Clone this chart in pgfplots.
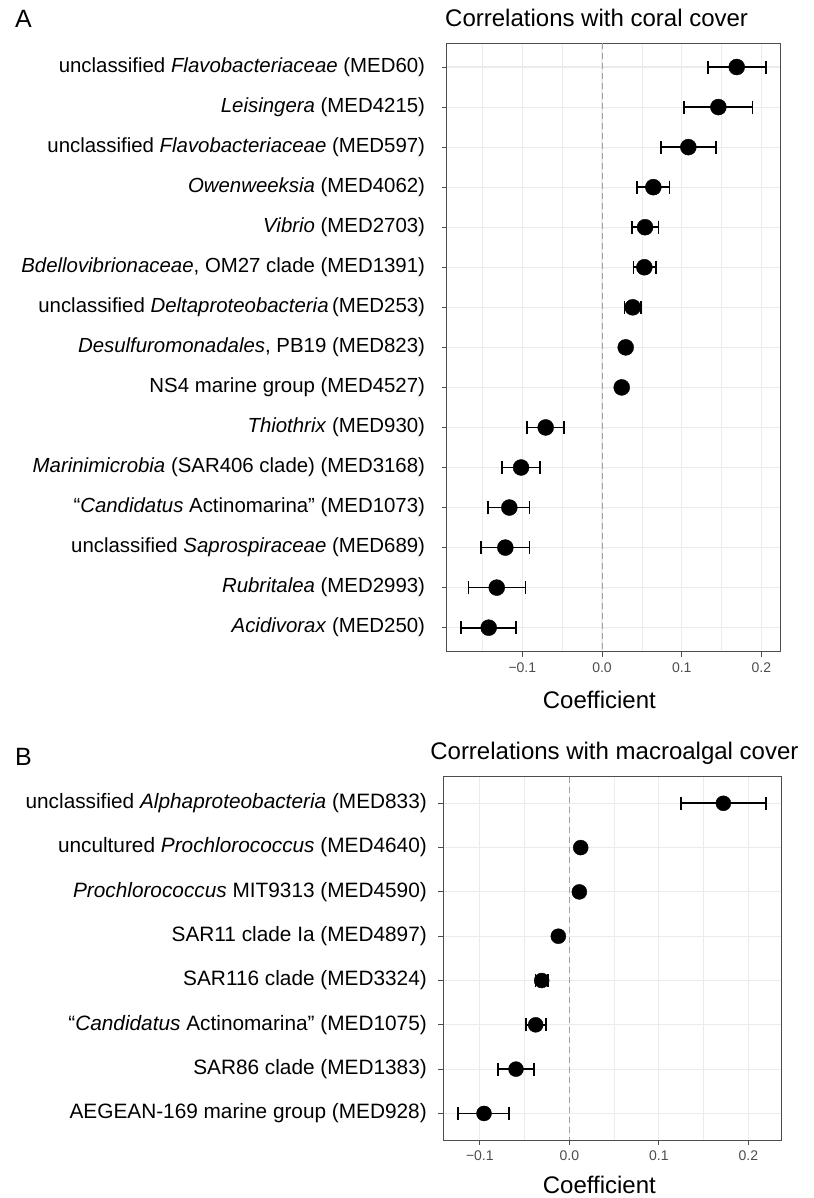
\documentclass[border=0pt]{standalone}
\usepackage{fontspec}
\setmainfont{Liberation Sans}
\usepackage{pgfplots}
\pgfplotsset{compat=1.18}
\usepackage{pgfplotstable}

\definecolor{gridc}{HTML}{EBEBEB}
\definecolor{framec}{HTML}{4D4D4D}
\definecolor{tickc}{HTML}{4D4D4D}
\definecolor{zeroc}{HTML}{A0A0A0}

% row, coefficient, error minus, error plus
\pgfplotstableread{
row x em ep
1 0.1690 0.0364 0.0364
2 0.1460 0.0431 0.0426
3 0.1083 0.0343 0.0344
4 0.0644 0.0201 0.0201
5 0.0540 0.0168 0.0167
6 0.0531 0.0138 0.0142
7 0.0385 0.0105 0.0105
8 0.0297 0.0050 0.0050
9 0.0247 0.0030 0.0030
10 -0.0707 0.0238 0.0234
11 -0.1016 0.0243 0.0238
12 -0.1163 0.0264 0.0251
13 -0.1213 0.0305 0.0301
14 -0.1321 0.0356 0.0359
15 -0.1422 0.0347 0.0343
}\coral

\pgfplotstableread{
row x em ep
1 0.1721 0.0473 0.0473
2 0.0127 0.0020 0.0020
3 0.0112 0.0020 0.0020
4 -0.0123 0.0020 0.0020
5 -0.0309 0.0070 0.0070
6 -0.0376 0.0111 0.0112
7 -0.0596 0.0197 0.0202
8 -0.0953 0.0287 0.0279
}\algae

\pgfplotsset{
  panel/.style={
    scale only axis, anchor=north west,
    y dir=reverse, ymin=0.4,
    axis line style={framec, line width=1pt},
    tick style={tickc, line width=1pt},
    major tick length=5pt, minor tick length=0pt,
    tick align=outside, xtick pos=bottom, ytick pos=left,
    xmajorgrids, ymajorgrids, xminorgrids,
    grid style={gridc, line width=1.1pt},
    minor grid style={gridc, line width=0.55pt},
    xtick={-0.1,0,0.1,0.2},
    xticklabels={−0.1,0.0,0.1,0.2},
    minor xtick={-0.15,-0.05,0.05,0.15},
    xticklabel style={font=\fontsize{14}{14}\selectfont, text=tickc, inner sep=0pt, anchor=north, yshift=-5.5pt},
    yticklabel style={text=black, inner sep=0pt, anchor=east},
    title style={font=\fontsize{24}{24}\selectfont, inner sep=0pt, anchor=base west},
    xlabel style={font=\fontsize{24}{24}\selectfont, inner sep=0pt, anchor=base},
  },
  dots/.style={only marks, mark=*, black, mark size=#1,
    error bars/.cd, x dir=both, x explicit, error mark=|,
    error bar style={line width=1.7pt},
    error mark options={mark size=6.5pt, line width=1.7pt}},
}

\begin{document}
\begin{tikzpicture}
\path[use as bounding box] (0,0) rectangle (813pt,-1198pt);

\node[anchor=base west, inner sep=0pt, font=\fontsize{25}{25}\selectfont] at (15pt,-28pt) {A};
\node[anchor=base west, inner sep=0pt, font=\fontsize{25}{25}\selectfont] at (15pt,-765pt) {B};

\begin{axis}[panel,
  at={(446.7pt,-43pt)}, width=333.3pt, height=608.7pt,
  xmin=-0.1949, xmax=0.2233, ymax=15.6,
  ytick={1,...,15},
  yticklabel style={font=\fontsize{20.4}{20.4}\selectfont, xshift=-16.5pt},
  yticklabels={
    unclassified \textit{Flavobacteriaceae} (MED60),
    \textit{Leisingera} (MED4215),
    unclassified \textit{Flavobacteriaceae} (MED597),
    \textit{Owenweeksia} (MED4062),
    \textit{Vibrio} (MED2703),
    {\textit{Bdellovibrionaceae}, OM27 clade (MED1391)},
    unclassified \textit{Deltaproteobacteria}\,(MED253),
    {\textit{Desulfuromonadales}, PB19 (MED823)},
    NS4 marine group (MED4527),
    \textit{Thiothrix} (MED930),
    \textit{Marinimicrobia} (SAR406 clade) (MED3168),
    “\textit{Candidatus} Actinomarina” (MED1073),
    unclassified \textit{Saprospiraceae} (MED689),
    \textit{Rubritalea} (MED2993),
    \textit{Acidivorax} (MED250)},
  title={Correlations with coral cover},
  title style={at={(-0.005,1)}, yshift=11pt},
  xlabel={Coefficient},
  xlabel style={at={(0.458,0)}, yshift=-56.3pt},
]
\addplot[zeroc, line width=1pt, dash pattern=on 6pt off 4pt] coordinates {(0,0.4) (0,15.6)};
\addplot[dots=8pt] table[x=x, y=row, x error minus=em, x error plus=ep] {\coral};
\end{axis}

\begin{axis}[panel,
  at={(443.3pt,-776.7pt)}, width=337.7pt, height=363.3pt,
  xmin=-0.1408, xmax=0.2365, ymax=8.6,
  ytick={1,...,8},
  yticklabel style={font=\fontsize{20.8}{20.8}\selectfont, xshift=-11.3pt},
  yticklabels={
    unclassified \textit{Alphaproteobacteria} (MED833),
    uncultured \textit{Prochlorococcus} (MED4640),
    \textit{Prochlorococcus} MIT9313 (MED4590),
    SAR11 clade Ia (MED4897),
    SAR116 clade (MED3324),
    “\textit{Candidatus} Actinomarina” (MED1075),
    SAR86 clade (MED1383),
    AEGEAN-169 marine group (MED928)},
  title={Correlations with macroalgal cover},
  title style={at={(-0.039,1)}, yshift=11.7pt},
  xlabel={Coefficient},
  xlabel style={at={(0.462,0)}, yshift=-53.5pt},
]
\addplot[zeroc, line width=1pt, dash pattern=on 6pt off 4pt] coordinates {(0,0.4) (0,8.6)};
\addplot[dots=7.5pt] table[x=x, y=row, x error minus=em, x error plus=ep] {\algae};
\end{axis}
\end{tikzpicture}
\end{document}
